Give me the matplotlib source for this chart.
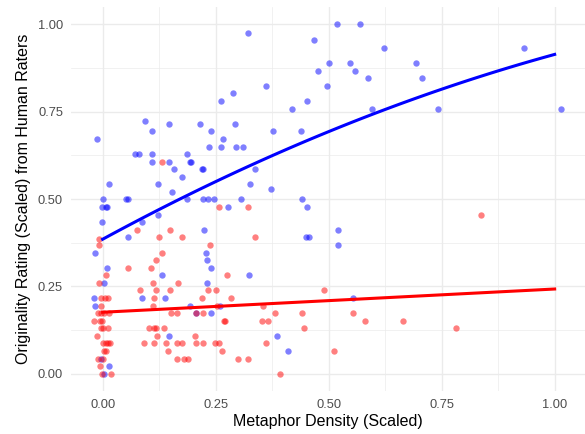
import numpy as np
import matplotlib
matplotlib.use("Agg")
import matplotlib.pyplot as plt
from matplotlib.ticker import MultipleLocator

plt.rcParams['font.family'] = ['Liberation Sans', 'DejaVu Sans']

# blue group: (metaphor density, originality rating)
blue_x = [-0.013, 0.015, 0.001, 0.051, 0.055, 0.072, 0.080, 0.094, 0.109, 0.109,
          0.109, 0.123, 0.146, 0.147, 0.158, 0.153, 0.176, 0.186, 0.193, 0.196,
          0.215, 0.219, 0.223, 0.186, 0.223, 0.234, 0.246, 0.235, 0.239, 0.262,
          0.261, 0.267, 0.288, 0.292, 0.295, 0.310, 0.321, 0.336, 0.325, 0.306,
          0.361, 0.377, 0.373, 0.418, 0.439, 0.440, 0.451, 0.467, 0.476, 0.497,
          0.501, 0.519, 0.547, 0.559, 0.569, 0.587, 0.597, 0.622, 0.694, 0.706,
          0.742, 0.932, 1.015,
          0.453, -0.001, 0.007, 0.010, -0.002, -0.017, 0.057, 0.088, 0.122, 0.224,
          0.229, 0.231, 0.239, 0.230, 0.278, 0.323, 0.449, 0.457, 0.010, 0.004,
          -0.019, -0.016, 0.132, 0.087, 0.137, 0.193, 0.206, 0.239, 0.260, 0.147,
          -0.004, 0.014, 0.004, 0.386, 0.411, 0.521, 0.520, 0.554]
blue_y = [0.672, 0.542, 0.500, 0.500, 0.500, 0.629, 0.629, 0.723, 0.694, 0.629,
          0.607, 0.542, 0.607, 0.716, 0.585, 0.520, 0.564, 0.629, 0.607, 0.607,
          0.716, 0.585, 0.585, 0.500, 0.500, 0.500, 0.500, 0.650, 0.694, 0.781,
          0.650, 0.672, 0.803, 0.716, 0.650, 0.650, 0.976, 0.585, 0.542, 0.500,
          0.824, 0.694, 0.530, 0.759, 0.694, 0.500, 0.781, 0.954, 0.867, 0.824,
          0.889, 1.000, 0.889, 0.867, 1.000, 0.846, 0.759, 0.932, 0.889, 0.846,
          0.759, 0.932, 0.759,
          0.477, 0.477, 0.477, 0.477, 0.433, 0.346, 0.390, 0.433, 0.455, 0.412,
          0.346, 0.325, 0.304, 0.260, 0.477, 0.282, 0.390, 0.390, 0.304, 0.260,
          0.217, 0.195, 0.282, 0.217, 0.217, 0.195, 0.174, 0.174, 0.195, 0.108,
          0.043, 0.022, 0.000, 0.108, 0.065, 0.411, 0.368, 0.217]

# red group
red_x = [0.131, 0.258, 0.321, -0.008, -0.008, 0.077, 0.125, 0.149, 0.176, 0.238,
         0.336, 0.132, 0.119, 0.056, 0.106, 0.007, -0.007, 0.112, 0.167, 0.276,
         0.082, 0.119, 0.150, 0.233, 0.251, -0.004, 0.006, 0.011, -0.004, 0.114,
         0.220, 0.285, 0.252, 0.111, -0.010, -0.004, 0.004, 0.013, 0.151, 0.164,
         0.206, 0.223, 0.355, 0.381, 0.440, -0.019, -0.006, -0.002, -0.004, 0.000,
         0.011, 0.103, 0.114, 0.119, 0.135, 0.268, 0.271, 0.352, 0.366, 0.445,
         -0.013, 0.120, 0.205, 0.001, 0.007, 0.012, 0.017, 0.091, 0.114, 0.140,
         0.165, 0.176, 0.206, 0.221, 0.248, 0.257, 0.361, 0.004, 0.008, 0.145,
         0.263, -0.010, 0.000, 0.164, 0.181, 0.189, 0.300, 0.321, -0.006, -0.001,
         0.018, 0.392, 0.836, 0.489, 0.554, 0.580, 0.664, 0.782, 0.511]
red_y = [0.607, 0.477, 0.477, 0.386, 0.368, 0.412, 0.390, 0.412, 0.390, 0.368,
         0.390, 0.346, 0.325, 0.304, 0.304, 0.282, 0.260, 0.260, 0.260, 0.282,
         0.239, 0.239, 0.239, 0.239, 0.239, 0.217, 0.217, 0.217, 0.195, 0.217,
         0.217, 0.217, 0.195, 0.195, 0.174, 0.174, 0.174, 0.174, 0.174, 0.174,
         0.174, 0.174, 0.195, 0.174, 0.174, 0.152, 0.152, 0.152, 0.130, 0.130,
         0.130, 0.130, 0.130, 0.130, 0.130, 0.152, 0.152, 0.152, 0.152, 0.130,
         0.108, 0.108, 0.108, 0.087, 0.087, 0.087, 0.087, 0.087, 0.087, 0.087,
         0.087, 0.087, 0.087, 0.087, 0.087, 0.087, 0.087, 0.065, 0.065, 0.065,
         0.065, 0.043, 0.043, 0.043, 0.043, 0.043, 0.043, 0.043, 0.022, 0.000,
         0.000, 0.000, 0.455, 0.239, 0.174, 0.152, 0.152, 0.130, 0.065]

# smooth fits (polynomial coefficients, highest power first)
blue_fit = [-0.174, 0.703, 0.385]
red_fit = [0.0665, 0.176]
fit_range = [0.0, 1.0]

fig = plt.figure(figsize=(5.85, 4.34), dpi=100)
ax = fig.add_axes([70.7 / 585, 1 - 391.2 / 434, (584.8 - 70.7) / 585, (391.2 - 6.9) / 434])

ax.scatter(blue_x, blue_y, s=21, color="blue", alpha=0.5, linewidths=0, zorder=3)
ax.scatter(red_x, red_y, s=21, color="red", alpha=0.5, linewidths=0, zorder=3)

xs = np.linspace(fit_range[0], fit_range[1], 100)
ax.plot(xs, np.polyval(blue_fit, xs), color="blue", lw=2.2, zorder=4)
ax.plot(xs, np.polyval(red_fit, xs), color="red", lw=2.2, zorder=4)

ax.set_xlim(-0.0707, 1.0667)
ax.set_ylim(-0.05, 1.05)
ax.xaxis.set_major_locator(MultipleLocator(0.25))
ax.yaxis.set_major_locator(MultipleLocator(0.25))
ax.xaxis.set_minor_locator(MultipleLocator(0.125))
ax.yaxis.set_minor_locator(MultipleLocator(0.125))
ax.xaxis.set_major_formatter(lambda v, p: f"{v:.2f}")
ax.yaxis.set_major_formatter(lambda v, p: f"{v:.2f}")

ax.grid(which="major", color="#EBEBEB", lw=1.0)
ax.grid(which="minor", color="#EBEBEB", lw=0.5)
ax.set_axisbelow(True)
for s in ax.spines.values():
    s.set_visible(False)
ax.tick_params(which="both", length=0)
ax.tick_params(axis="x", labelsize=9.3, labelcolor="#4D4D4D", pad=5.5)
ax.tick_params(axis="y", labelsize=9.3, labelcolor="#4D4D4D", pad=5.5)

ax.set_xlabel("Metaphor Density (Scaled)", fontsize=11.5, labelpad=2.5)
ax.set_ylabel("Originality Rating (Scaled) from Human Raters", fontsize=11.5, labelpad=5)

fig.savefig("out.png", dpi=100)
